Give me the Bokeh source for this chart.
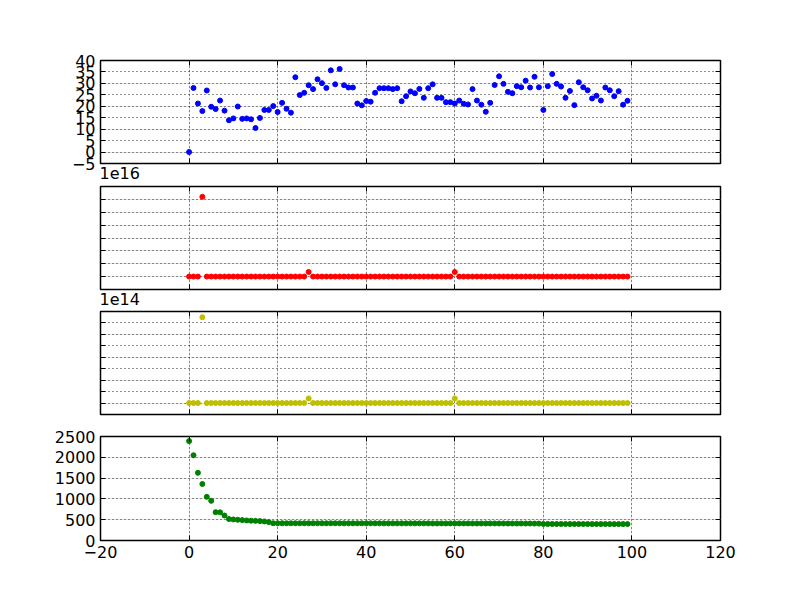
from bokeh.plotting import figure
from bokeh.layouts import column
from bokeh.models import Range1d, FixedTicker, LinearAxis, Grid, Title, CustomJSTickFormatter
from bokeh.embed import file_html
from bokeh.resources import INLINE

# x positions (sample index) and shared ticks
x_idx = list(range(100))
x_ticks = [-20, 0, 20, 40, 60, 80, 100, 120]

blue_vals = [
    0.0, 28.0, 21.2, 17.9, 26.9, 19.8, 18.8, 22.5, 18.1, 13.9,
    14.7, 19.9, 14.5, 14.7, 14.3, 10.5, 14.9, 18.4, 18.4, 20.1,
    17.5, 21.5, 18.9, 17.2, 32.7, 24.9, 25.9, 29.2, 27.5, 31.8,
    30.1, 28.0, 35.7, 29.6, 36.3, 29.2, 28.2, 28.2, 21.2, 20.4,
    22.3, 22.0, 25.9, 27.9, 27.9, 27.9, 27.5, 27.9, 22.2, 24.4,
    26.5, 25.7, 27.6, 23.7, 27.9, 29.6, 23.7, 23.7, 21.8, 21.8,
    21.2, 22.5, 21.1, 20.8, 27.5, 22.5, 20.7, 17.6, 21.5, 29.3,
    33.1, 29.8, 26.3, 25.7, 28.8, 28.3, 31.2, 28.2, 32.9, 28.3,
    18.4, 28.8, 34.1, 29.8, 28.6, 23.7, 26.7, 20.5, 30.5, 28.3,
    27.0, 23.4, 24.6, 22.5, 28.2, 27.0, 24.4, 26.6, 20.7, 22.4,
]

red_vals = [
    2e13, 2e13, 2e13, 3.1e16, 2e13, 2e13, 2e13, 2e13, 2e13, 2e13,
    2e13, 2e13, 2e13, 2e13, 2e13, 2e13, 2e13, 2e13, 2e13, 2e13,
    2e13, 2e13, 2e13, 2e13, 2e13, 2e13, 2e13, 1.8e15, 2e13, 2e13,
    2e13, 2e13, 2e13, 2e13, 2e13, 2e13, 2e13, 2e13, 2e13, 2e13,
    2e13, 2e13, 2e13, 2e13, 2e13, 2e13, 2e13, 2e13, 2e13, 2e13,
    2e13, 2e13, 2e13, 2e13, 2e13, 2e13, 2e13, 2e13, 2e13, 2e13,
    1.8e15, 2e13, 2e13, 2e13, 2e13, 2e13, 2e13, 2e13, 2e13, 2e13,
    2e13, 2e13, 2e13, 2e13, 2e13, 2e13, 2e13, 2e13, 2e13, 2e13,
    2e13, 2e13, 2e13, 2e13, 2e13, 2e13, 2e13, 2e13, 2e13, 2e13,
    2e13, 2e13, 2e13, 2e13, 2e13, 2e13, 2e13, 2e13, 2e13, 2e13,
]

yellow_vals = [
    1e11, 1e11, 1e11, 7.5e14, 1e11, 1e11, 1e11, 1e11, 1e11, 1e11,
    1e11, 1e11, 1e11, 1e11, 1e11, 1e11, 1e11, 1e11, 1e11, 1e11,
    1e11, 1e11, 1e11, 1e11, 1e11, 1e11, 1e11, 4e13, 1e11, 1e11,
    1e11, 1e11, 1e11, 1e11, 1e11, 1e11, 1e11, 1e11, 1e11, 1e11,
    1e11, 1e11, 1e11, 1e11, 1e11, 1e11, 1e11, 1e11, 1e11, 1e11,
    1e11, 1e11, 1e11, 1e11, 1e11, 1e11, 1e11, 1e11, 1e11, 1e11,
    4e13, 1e11, 1e11, 1e11, 1e11, 1e11, 1e11, 1e11, 1e11, 1e11,
    1e11, 1e11, 1e11, 1e11, 1e11, 1e11, 1e11, 1e11, 1e11, 1e11,
    1e11, 1e11, 1e11, 1e11, 1e11, 1e11, 1e11, 1e11, 1e11, 1e11,
    1e11, 1e11, 1e11, 1e11, 1e11, 1e11, 1e11, 1e11, 1e11, 1e11,
]

green_vals = [
    2390, 2050, 1627, 1358, 1050, 954, 681, 677, 601, 516,
    506, 498, 490, 482, 476, 472, 466, 458, 442, 415,
    415, 415, 414, 414, 414, 414, 414, 414, 414, 414,
    414, 414, 414, 414, 414, 413, 413, 413, 413, 413,
    413, 413, 413, 413, 412, 412, 412, 412, 412, 412,
    412, 412, 412, 412, 412, 411, 411, 411, 411, 411,
    411, 411, 411, 411, 410, 410, 410, 410, 410, 410,
    410, 410, 409, 409, 409, 409, 408, 408, 407, 406,
    398, 398, 397, 397, 397, 397, 396, 396, 396, 396,
    396, 395, 395, 395, 395, 395, 394, 394, 394, 394,
]

FONT = "DejaVu Sans"
xr = Range1d(-20, 120)


def make_axis(ticks, labels, overrides=None):
    ax = LinearAxis(ticker=FixedTicker(ticks=ticks))
    ax.axis_line_color = None
    ax.major_tick_in = 5
    ax.major_tick_out = 0
    ax.minor_tick_in = 0
    ax.minor_tick_out = 0
    ax.major_tick_line_color = "black"
    ax.major_label_text_font = FONT
    ax.major_label_text_font_size = "16px"
    ax.major_label_text_color = "black"
    if labels:
        ax.major_label_standoff = 5
        if overrides:
            ax.major_label_overrides = overrides
    else:
        ax.formatter = CustomJSTickFormatter(code="return ''")
        ax.major_label_standoff = 0
    return ax


def make_panel(vals, color, y_lo, y_hi, y_ticks, frame_h, top, bottom,
               y_labels=True, x_labels=False, y_over=None, next_offset=None):
    p = figure(frame_width=620, frame_height=frame_h, x_range=xr,
               y_range=Range1d(y_lo, y_hi), output_backend="svg",
               toolbar_location=None, x_axis_location=None, y_axis_location=None,
               min_border_left=100, min_border_right=72,
               min_border_top=top, min_border_bottom=bottom)
    p.outline_line_color = "black"
    p.outline_line_width = 1.5
    p.outline_line_alpha = 1.0
    p.background_fill_color = "white"
    p.border_fill_color = "white"

    p.add_layout(make_axis(x_ticks, x_labels, {-20: "\u221220"}), "below")
    p.add_layout(make_axis(y_ticks, y_labels, y_over), "left")
    p.add_layout(make_axis(y_ticks, False), "right")
    p.add_layout(make_axis(x_ticks, False), "above")

    # offset text of the panel underneath, drawn in this panel's lower border
    if next_offset:
        t = Title(text=next_offset, align="left", text_font=FONT,
                  text_font_size="16px", text_font_style="normal",
                  text_color="black", standoff=3, offset=-1)
        p.add_layout(t, "below")

    for dim, ticks in ((0, x_ticks), (1, y_ticks)):
        g = Grid(dimension=dim, ticker=FixedTicker(ticks=ticks))
        g.grid_line_color = "#222222"
        g.grid_line_width = 1
        g.grid_line_dash = "1 3"
        p.add_layout(g)

    p.scatter(x_idx, vals, size=5, color=color)
    return p


p1 = make_panel(blue_vals, "#0000ff", -5, 40, list(range(-5, 41, 5)), 103, 60, 22,
                y_over={-5: "\u22125"}, next_offset="1e16")
p2 = make_panel(red_vals, "#ff0000", -0.5e16, 3.5e16,
                [0, 0.5e16, 1.0e16, 1.5e16, 2.0e16, 2.5e16, 3.0e16], 103, 1, 21,
                y_labels=False, next_offset="1e14")
p3 = make_panel(yellow_vals, "#bfbf00", -1e14, 8e14,
                [0, 1e14, 2e14, 3e14, 4e14, 5e14, 6e14, 7e14], 103, 1, 11,
                y_labels=False)
p4 = make_panel(green_vals, "#008000", 0, 2500, [0, 500, 1000, 1500, 2000, 2500],
                104, 11, 40, x_labels=True)

layout = column(p1, p2, p3, p4)

open("out.html", "w").write(file_html(layout, INLINE))
